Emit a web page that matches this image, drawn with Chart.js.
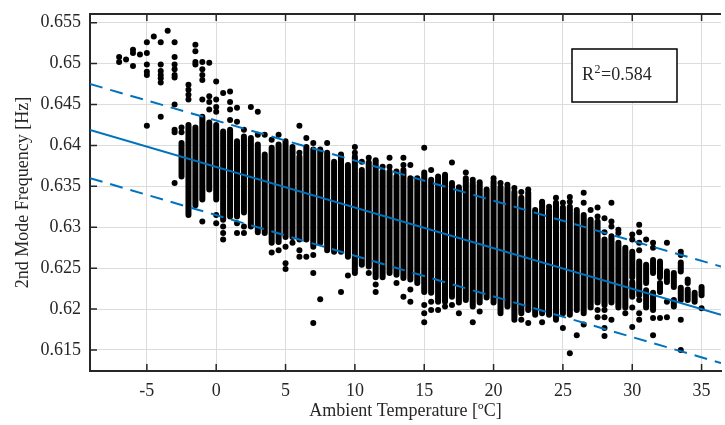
<!DOCTYPE html>
<html>
<head>
<meta charset="utf-8">
<script src="https://cdn.jsdelivr.net/npm/chart.js@4.4.0/dist/chart.umd.min.js"></script>
<style>
    html, body { margin: 0; padding: 0; background: #fff; overflow: hidden; }
    #wrap { width: 725px; height: 425px; }
</style>
</head>
<body>
<div id="wrap"><canvas id="freqChart"></canvas></div>
<script>
// Tick positions
const xTicks = [-5, 0, 5, 10, 15, 20, 25, 30, 35];
const yTicks = [0.615, 0.62, 0.625, 0.63, 0.635, 0.64, 0.645, 0.65, 0.655];

// Dense vertical runs of measurements (one temperature bin can hold several runs)
const segTemp = [-2.5, -2, -1.5, -1, -0.5, 0, 0.5, 1, 1.5, 2,
    2.5, 3, 3.5, 4, 4.5, 5, 5.5, 6, 6.5, 7,
    7.5, 8, 8.5, 9, 9.5, 10, 10.5, 11, 11.5, 12,
    12.5, 13, 13.5, 14, 14.5, 15, 15.5, 16, 16.5, 17,
    17.5, 18, 18.5, 19, 19.5, 20, 20.5, 21, 21.5, 22,
    22.5, 23, 23.5, 24, 24.5, 25, 25.5, 26, 26.5, 27,
    27.5, 28, 28.5, 29, 29.5,
    30, 30, 30.5, 31, 31, 31.5, 31.5, 32, 32, 32.5, 33, 33, 33.5, 33.5, 34, 34, 34.5, 35];
const segHigh = [.6403, .6425, .6422, .6435, .6428, .6425, .6417, .6419, .6405, .6411,
    .6409, .6401, .6389, .6397, .6401, .6405, .6395, .6386, .6398, .6395,
    .6395, .6391, .6380, .6386, .6376, .6386, .6367, .6379, .6379, .6368,
    .6368, .6362, .6370, .6360, .6360, .6367, .6358, .6362, .6364, .6354,
    .6349, .6360, .6354, .6352, .6346, .6356, .6349, .6348, .6343, .6336,
    .6342, .6321, .6330, .6321, .6330, .6324, .6325, .6318, .6315, .6309,
    .6307, .6285, .6289, .6281, .6275,
    .6270, .6233, .6258, .6254, .6223, .6260, .6220, .6258, .6232, .6246, .6244, .6211, .6257, .6226, .6236, .6224, .6220, .6227];
const segLow = [.6362, .6315, .6327, .6334, .6346, .6334, .6309, .6313, .6313, .6318,
    .6301, .6294, .6293, .6281, .6282, .6288, .6288, .6285, .6285, .6276,
    .6281, .6272, .6270, .6270, .6264, .6244, .6254, .6252, .6239, .6239,
    .6244, .6242, .6238, .6236, .6232, .6221, .6220, .6209, .6209, .6215,
    .6208, .6211, .6203, .6208, .6214, .6208, .6195, .6203, .6190, .6195,
    .6199, .6193, .6195, .6193, .6187, .6195, .6193, .6199, .6195, .6202,
    .6208, .6205, .6208, .6202, .6202,
    .6239, .6215, .6217, .6232, .6202, .6244, .6199, .6239, .6221, .6233, .6227, .6203, .6246, .6211, .6232, .6211, .6209, .6217];

// Isolated measurements [temperature, frequency]
const loosePoints = [
    [-7, .6508], [-7, .6502], [-6.5, .6505], [-6, .6517], [-6, .6513], [-6, .6497], [-5.5, .6511],
    [-5, .6526], [-5, .6513], [-5, .6499], [-5, .6490], [-5, .6486], [-5, .6424], [-4.5, .6533],
    [-4, .6526], [-4, .6499], [-4, .6491], [-4, .6486], [-4, .6482], [-4, .6477], [-4, .6435], [-3.5, .6540],
    [-3, .6526], [-3, .6508], [-3, .6499], [-3, .6493], [-3, .6486], [-3, .6483], [-3, .6450], [-3, .6419], [-3, .6416], [-3, .6354],
    [-2.5, .6422], [-2.5, .6416], [-2, .6474], [-2, .6468], [-2, .6462], [-2, .6456],
    [-1.5, .6523], [-1.5, .6515], [-1.5, .6502], [-1.5, .6499],
    [-1, .6502], [-1, .6493], [-1, .6486], [-1, .6480], [-1, .6456], [-1, .6307],
    [-0.5, .6501], [-0.5, .6460], [-0.5, .6453], [-0.5, .6444],
    [0, .6478], [0, .6456], [0, .6447], [0, .6441], [0, .6315], [0, .6305],
    [0.5, .6464], [0.5, .6301], [0.5, .6293], [0.5, .6285],
    [1, .6466], [1, .6453], [1, .6444], [1, .6431], [1.5, .6446], [1.5, .6429], [1.5, .6305], [1.5, .6293],
    [2, .6419], [2, .6301], [2, .6293], [2.5, .6447], [3, .6441], [3, .6413], [3.5, .6413],
    [4, .6407], [4, .6269], [4.5, .6413], [4.5, .6272], [5, .6276], [5, .6256], [5, .6249],
    [5.5, .6398], [5.5, .6281], [6, .6424], [6, .6391], [6, .6272], [6, .6264], [6.5, .6409], [6.5, .6264],
    [7, .6403], [7, .6266], [7, .6244], [7, .6183], [7.5, .6212], [8, .6403], [9, .6389], [9, .6221], [9.5, .6241],
    [10, .6398], [10, .6391], [10.5, .6380], [10.5, .6370], [11, .6385], [11, .6244],
    [11.5, .6382], [11.5, .6230], [11.5, .6221], [12, .6374], [12.5, .6385], [12.5, .6374],
    [13, .6368], [13, .6232], [13.5, .6385], [13.5, .6376], [13.5, .6215], [14, .6376], [14, .6224], [14, .6209],
    [15, .6397], [15, .6205], [15, .6195], [15, .6184], [15.5, .6370], [15.5, .6209], [15.5, .6199],
    [16, .6199], [16.5, .6203], [17, .6379], [17, .6205], [17.5, .6195], [18, .6367], [18.5, .6358], [18.5, .6184],
    [19, .6355], [19, .6197], [20, .6360], [20.5, .6354], [21, .6352], [21.5, .6348], [21.5, .6187],
    [22, .6343], [22, .6187], [22.5, .6346], [22.5, .6183], [23.5, .6331], [23.5, .6184], [24, .6325], [24.5, .6336],
    [25, .6330], [25, .6177], [25.5, .6337], [25.5, .6331], [25.5, .6146], [26, .6321], [26, .6168],
    [26.5, .6342], [26.5, .6330], [26.5, .6181], [27, .6321],
    [27.5, .6324], [27.5, .6313], [27.5, .6199], [27.5, .6190],
    [28, .6311], [28, .6294], [28, .6199], [28, .6190], [28, .6177], [28, .6167],
    [28.5, .6330], [28.5, .6307], [28.5, .6301], [28.5, .6187], [29, .6297], [29, .6293], [29.5, .6195],
    [30, .6291], [30, .6285], [30, .6202], [30, .6178],
    [30.5, .6303], [30.5, .6294], [30.5, .6281], [30.5, .6272], [30.5, .6211], [30.5, .6195], [30.5, .6187],
    [31, .6285], [31.5, .6281], [31.5, .6275], [31.5, .6189], [31.5, .6168], [32, .6189],
    [32.5, .6281], [32.5, .6209], [32.5, .6190], [33.5, .6270], [33.5, .6266], [33.5, .6187], [33.5, .6150],
    [35, .6201]
];

// Linear fit and its prediction bounds, read at the axis limits
const fitTemp = [-9.1, 36.4];
const fitFreq = [0.6419, 0.6193];
const upperFreq = [0.6475, 0.6252];
const lowerFreq = [0.6360, 0.6134];

const rSquared = '0.584';

const axisColor = '#262626';
const fitColor = '#0072BD';
const serif = '"Liberation Serif", "Times New Roman", serif';

function pairs(xs, ys) {
    return xs.map((x, i) => ({ x: x, y: ys[i] }));
}

const columnPoints = [];
segTemp.forEach(function(t, i) {
    columnPoints.push({ x: t, y: segHigh[i] }, { x: t, y: segLow[i] }, { x: t, y: null });
});

const frameAndNote = {
    id: 'frameAndNote',
    afterDatasetsDraw(chart) {
        const { ctx, chartArea: a, scales } = chart;
        ctx.save();
        ctx.strokeStyle = axisColor;
        ctx.lineWidth = 1.5;
        ctx.beginPath();
        xTicks.forEach(function(v) {
            const px = scales.x.getPixelForValue(v);
            ctx.moveTo(px, a.bottom); ctx.lineTo(px, a.bottom - 7);
            ctx.moveTo(px, a.top); ctx.lineTo(px, a.top + 7);
        });
        yTicks.forEach(function(v) {
            const py = scales.y.getPixelForValue(v);
            ctx.moveTo(a.left, py); ctx.lineTo(a.left + 7, py);
        });
        ctx.stroke();

        ctx.lineWidth = 2;
        ctx.beginPath();
        ctx.moveTo(a.left - 1, a.top);
        ctx.lineTo(a.right, a.top);
        ctx.stroke();

        // R^2 annotation box
        const bx = a.left + 482, by = a.top + 35, bw = 105, bh = 53;
        ctx.fillStyle = '#fff';
        ctx.fillRect(bx, by, bw, bh);
        ctx.strokeStyle = '#000';
        ctx.lineWidth = 1.5;
        ctx.strokeRect(bx, by, bw, bh);
        ctx.fillStyle = axisColor;
        ctx.textBaseline = 'alphabetic';
        ctx.font = '18px ' + serif;
        let tx = bx + 10;
        const base = by + 31;
        ctx.fillText('R', tx, base);
        tx += ctx.measureText('R').width + 0.5;
        ctx.font = '12px ' + serif;
        ctx.fillText('2', tx, base - 7);
        tx += ctx.measureText('2').width + 0.5;
        ctx.font = '18px ' + serif;
        ctx.fillText('=' + rSquared, tx, base);
        ctx.restore();
    }
};

const chart = new Chart(document.getElementById('freqChart'), {
    type: 'scatter',
    data: {
        datasets: [
            {
                data: pairs(fitTemp, fitFreq),
                showLine: true,
                borderColor: fitColor,
                borderWidth: 2,
                pointRadius: 0
            },
            {
                data: pairs(fitTemp, upperFreq),
                showLine: true,
                borderColor: fitColor,
                borderWidth: 2,
                borderDash: [13, 8],
                pointRadius: 0
            },
            {
                data: pairs(fitTemp, lowerFreq),
                showLine: true,
                borderColor: fitColor,
                borderWidth: 2,
                borderDash: [13, 8],
                pointRadius: 0
            },
            {
                data: loosePoints.map(p => ({ x: p[0], y: p[1] })),
                pointRadius: 3,
                pointBackgroundColor: '#000',
                pointBorderWidth: 0
            },
            {
                data: columnPoints,
                showLine: true,
                spanGaps: false,
                borderColor: '#000',
                borderWidth: 6,
                borderCapStyle: 'round',
                pointRadius: 0
            }
        ]
    },
    options: {
        responsive: true,
        maintainAspectRatio: false,
        animation: false,
        events: [],
        layout: { padding: { top: 14, right: 0, bottom: 0, left: 0 } },
        plugins: {
            legend: { display: false },
            tooltip: { enabled: false }
        },
        scales: {
            x: {
                type: 'linear',
                min: -9.1,
                max: 36.4,
                afterBuildTicks: function(scale) { scale.ticks = xTicks.map(v => ({ value: v })); },
                afterFit: function(scale) {
                    scale.height = 54;
                    scale.paddingLeft = 0;
                    scale.paddingRight = 0;
                },
                grid: { color: '#dcdcdc', lineWidth: 1, drawTicks: false },
                border: { display: true, color: axisColor, width: 2 },
                ticks: {
                    color: axisColor,
                    padding: 9,
                    maxRotation: 0,
                    font: { family: serif, size: 18 },
                    callback: v => String(v)
                },
                title: {
                    display: true,
                    text: 'Ambient Temperature [ºC]',
                    color: axisColor,
                    font: { family: serif, size: 18 },
                    padding: { top: 0, bottom: 3 }
                }
            },
            y: {
                type: 'linear',
                min: 0.61243,
                max: 0.65606,
                afterBuildTicks: function(scale) { scale.ticks = yTicks.map(v => ({ value: v })); },
                afterFit: function(scale) {
                    scale.width = 90;
                    scale.paddingTop = 0;
                    scale.paddingBottom = 0;
                },
                grid: { color: '#dcdcdc', lineWidth: 1, drawTicks: false },
                border: { display: true, color: axisColor, width: 2 },
                ticks: {
                    color: axisColor,
                    padding: 9,
                    font: { family: serif, size: 18, lineHeight: 1 },
                    callback: v => String(+v.toFixed(3))
                },
                title: {
                    display: true,
                    text: '2nd Mode Frequency [Hz]',
                    color: axisColor,
                    font: { family: serif, size: 18 },
                    padding: { top: 12, bottom: 0 }
                }
            }
        }
    },
    plugins: [frameAndNote]
});
</script>
</body>
</html>
